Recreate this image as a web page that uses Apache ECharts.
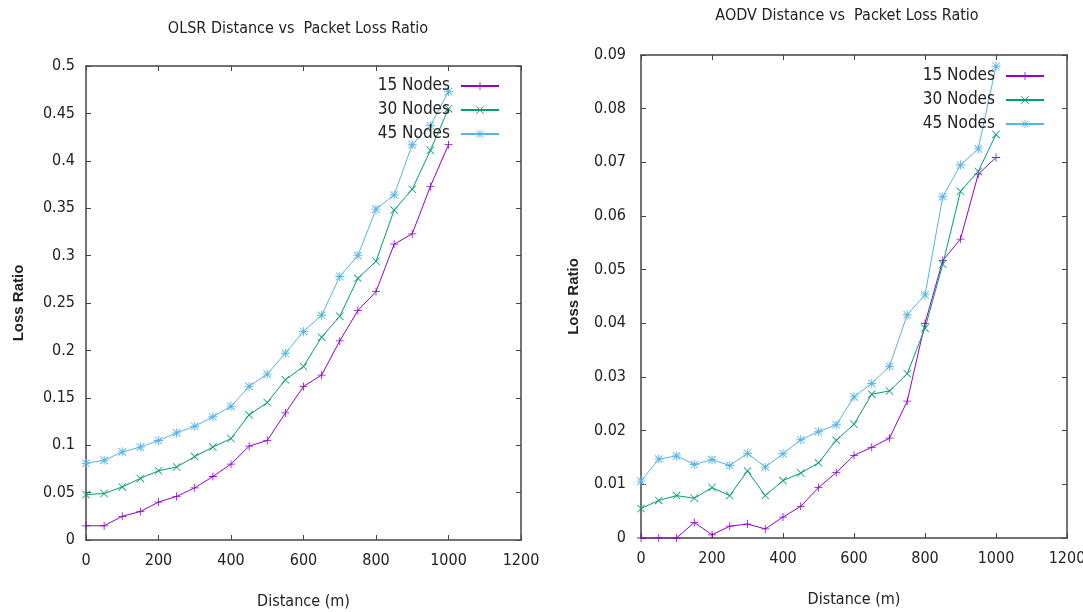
<!DOCTYPE html>
<html>
<head>
<meta charset="utf-8">
<script src="https://cdn.jsdelivr.net/npm/echarts@6/dist/echarts.min.js"></script>
<style>
  html, body { margin: 0; padding: 0; background: #fff; }
  #chart { width: 1083px; height: 612px; }
</style>
</head>
<body>
<div id="chart"></div>
<script>
// distances (m), shared by both plots
const distances = [0, 50, 100, 150, 200, 250, 300, 350, 400, 450, 500,
  550, 600, 650, 700, 750, 800, 850, 900, 950, 1000]
const seriesNames = ['15 Nodes', '30 Nodes', '45 Nodes']

// OLSR loss ratio
const olsr15 = [0.015, 0.015, 0.025, 0.030, 0.040, 0.046, 0.055, 0.067, 0.080, 0.099, 0.105,
  0.134, 0.162, 0.174, 0.210, 0.242, 0.262, 0.312, 0.323, 0.373, 0.417]
const olsr30 = [0.048, 0.049, 0.056, 0.065, 0.073, 0.077, 0.088, 0.098, 0.107, 0.132, 0.145,
  0.169, 0.183, 0.214, 0.236, 0.276, 0.294, 0.348, 0.370, 0.411, 0.455]
const olsr45 = [0.081, 0.084, 0.093, 0.098, 0.105, 0.113, 0.120, 0.130, 0.141, 0.162, 0.175,
  0.197, 0.220, 0.237, 0.278, 0.300, 0.349, 0.364, 0.417, 0.437, 0.473]

// AODV loss ratio
const aodv15 = [0, 0, 0, 0.0029, 0.0006, 0.0022, 0.0026, 0.0017, 0.0039, 0.0059, 0.0094,
  0.0122, 0.0154, 0.0169, 0.0186, 0.0255, 0.0400, 0.0517, 0.0557, 0.0678, 0.0709]
const aodv30 = [0.0055, 0.0070, 0.0079, 0.0074, 0.0094, 0.0079, 0.0125, 0.0079, 0.0107, 0.0121, 0.0140,
  0.0182, 0.0212, 0.0268, 0.0274, 0.0306, 0.0391, 0.0510, 0.0646, 0.0683, 0.0752]
const aodv45 = [0.0106, 0.0147, 0.0153, 0.0137, 0.0146, 0.0135, 0.0158, 0.0132, 0.0157, 0.0183, 0.0198,
  0.0211, 0.0263, 0.0288, 0.0320, 0.0416, 0.0453, 0.0636, 0.0695, 0.0725, 0.0879]

const colors = ['#9400d3', '#009e73', '#56b4e9']
// gnuplot-like point types: plus, cross, star
const plusPath = 'path://M4.5,0H5.5V10H4.5Z M0,4.5H10V5.5H0Z'
const crossPath = 'path://M0,0.7L0.7,0L10,9.3L9.3,10Z M9.3,0L10,0.7L0.7,10L0,9.3Z'
const starPath = 'path://M4.5,0H5.5V10H4.5Z M0,4.5H10V5.5H0Z M0.5,1.2L1.2,0.5L9.5,8.8L8.8,9.5Z M8.8,0.5L9.5,1.2L1.2,9.5L0.5,8.8Z'
const symbols = [plusPath, crossPath, starPath]
const symbolSizes = [8, 8, 9]

const narrow = '"Liberation Sans Narrow", "DejaVu Sans Condensed", "Roboto Condensed", "Liberation Sans", sans-serif'
const axisColor = '#444'

function pairs(ys) {
  return distances.map((d, i) => [d, ys[i]])
}

function makeX(gridIndex, pos) {
  const bottom = pos === 'bottom'
  return {
    type: 'value',
    gridIndex: gridIndex,
    position: pos,
    min: 0,
    max: 1200,
    interval: 200,
    name: bottom ? 'Distance (m)' : '',
    nameLocation: 'middle',
    nameGap: 54,
    nameTextStyle: { fontFamily: narrow, fontSize: 16, color: '#222' },
    axisLine: { show: true, onZero: false, lineStyle: { color: axisColor, width: 1.5 } },
    axisTick: { show: true, inside: true, length: 5, lineStyle: { color: axisColor } },
    axisLabel: { show: bottom, margin: 13, fontFamily: narrow, fontSize: 16, color: '#222',
      formatter: v => String(v) },
    splitLine: { show: false }
  }
}

function makeY(gridIndex, pos, max, interval, labelMargin) {
  const left = pos === 'left'
  return {
    type: 'value',
    gridIndex: gridIndex,
    position: pos,
    min: 0,
    max: max,
    interval: interval,
    name: left ? 'Loss Ratio' : '',
    nameLocation: 'middle',
    nameGap: 60,
    nameRotate: 90,
    nameTextStyle: { fontFamily: '"Liberation Sans", Arial, sans-serif', fontWeight: 'bold', fontSize: 15, color: '#222' },
    axisLine: { show: true, onZero: false, lineStyle: { color: axisColor, width: 1.5 } },
    axisTick: { show: true, inside: true, length: 5, lineStyle: { color: axisColor } },
    axisLabel: { show: left, margin: labelMargin, fontFamily: narrow, fontSize: 16, color: '#222' },
    splitLine: { show: false }
  }
}

function makeSeries(gridIndex, data) {
  return data.map((ys, i) => ({
    name: seriesNames[i],
    type: 'line',
    xAxisIndex: gridIndex * 2,
    yAxisIndex: gridIndex * 2,
    data: pairs(ys),
    symbol: symbols[i],
    symbolSize: symbolSizes[i],
    showAllSymbol: true,
    color: colors[i],
    lineStyle: { width: 1, color: colors[i] },
    itemStyle: { color: colors[i] },
    animation: false
  }))
}

function makeLegend(right, top) {
  return {
    data: seriesNames,
    orient: 'vertical',
    align: 'right',
    right: right,
    top: top,
    itemWidth: 38,
    itemHeight: 10,
    itemGap: 6,
    textStyle: { fontFamily: narrow, fontSize: 17, lineHeight: 18, color: '#222', padding: [0, 6, 0, 0] }
  }
}

const chart = echarts.init(document.getElementById('chart'))
chart.setOption({
  backgroundColor: '#fff',
  animation: false,
  title: [
    { text: 'OLSR Distance vs  Packet Loss Ratio', left: 293, top: 16, textAlign: 'center',
      textStyle: { fontFamily: narrow, fontSize: 16, fontWeight: 'normal', color: '#222' } },
    { text: 'AODV Distance vs  Packet Loss Ratio', left: 842, top: 3, textAlign: 'center',
      textStyle: { fontFamily: narrow, fontSize: 16, fontWeight: 'normal', color: '#222' } }
  ],
  legend: [makeLegend(578, 72), makeLegend(33, 62)],
  grid: [
    { left: 86, right: 562, top: 66, bottom: 72, outerBoundsMode: 'none' },
    { left: 641, right: 16, top: 55, bottom: 74, outerBoundsMode: 'none' }
  ],
  xAxis: [makeX(0, 'bottom'), makeX(0, 'top'), makeX(1, 'bottom'), makeX(1, 'top')],
  yAxis: [
    makeY(0, 'left', 0.5, 0.05, 11), makeY(0, 'right', 0.5, 0.05, 11),
    makeY(1, 'left', 0.09, 0.01, 15), makeY(1, 'right', 0.09, 0.01, 15)
  ],
  series: makeSeries(0, [olsr15, olsr30, olsr45]).concat(makeSeries(1, [aodv15, aodv30, aodv45]))
})
</script>
</body>
</html>
